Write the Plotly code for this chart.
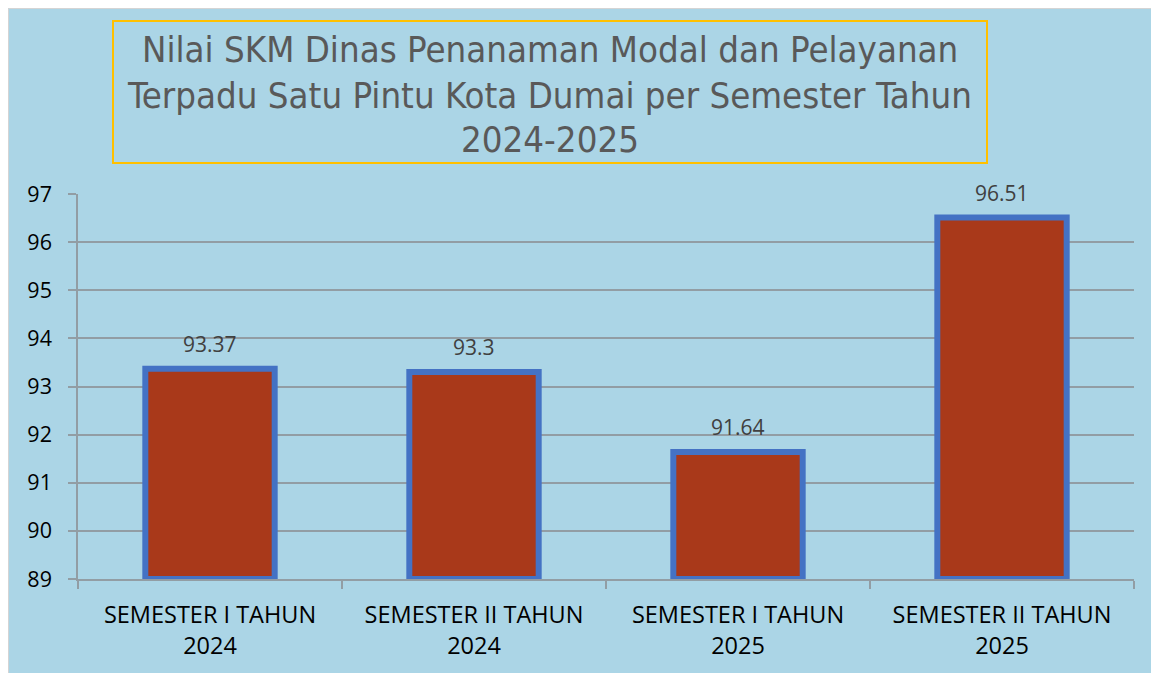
import plotly.graph_objects as go

# ---- data ----
categories = ["SEMESTER I TAHUN 2024", "SEMESTER II TAHUN 2024",
              "SEMESTER I TAHUN 2025", "SEMESTER II TAHUN 2025"]
tick_labels = ["SEMESTER I TAHUN<br>2024", "SEMESTER II TAHUN<br>2024",
               "SEMESTER I TAHUN<br>2025", "SEMESTER II TAHUN<br>2025"]
values = [93.37, 93.3, 91.64, 96.51]
value_labels = ["93.37", "93.3", "91.64", "96.51"]
y_ticks = [89, 90, 91, 92, 93, 94, 95, 96, 97]
title_lines = ["Nilai SKM Dinas Penanaman Modal dan Pelayanan",
               "Terpadu Satu Pintu Kota Dumai per Semester Tahun",
               "2024-2025"]

Y_MIN, Y_MAX = 89, 97
OFF = 8  # page body margin
W, H = 1159 - OFF, 673 - OFF
L, R, T, B = 70, 25, 186, 94
PW, PH = W - L - R, H - T - B

def px_x(px):
    # px given in window coordinates
    return (px - OFF - L) / PW

def px_y(py):
    return (H - B - (py - OFF)) / PH

BG = "#ABD5E6"
GRID = "#929DA4"

fig = go.Figure()
fig.add_trace(go.Bar(
    x=categories,
    y=[v - Y_MIN for v in values],
    base=Y_MIN,
    width=0.49,
    marker=dict(color="#A9391A", line=dict(color="#4472C4", width=6)),
    cliponaxis=False,
    hovertext=value_labels,
    hoverinfo="x+text",
))

annotations = []
for c, v, lab in zip(categories, values, value_labels):
    annotations.append(dict(
        x=c, y=v, xref="x", yref="y", text=lab, showarrow=False,
        yanchor="bottom", yshift=9,
        font=dict(family="Open Sans", size=21, color="#404040"),
    ))

title_centers = [49, 95, 139]
for line, cy in zip(title_lines, title_centers):
    annotations.append(dict(
        x=px_x(549.5), y=px_y(cy), xref="paper", yref="paper",
        text=line, showarrow=False, xanchor="center", yanchor="middle",
        font=dict(family="DejaVu Sans Condensed, DejaVu Sans", size=36.3, color="#595959"),
    ))

shapes = [
    dict(type="rect", xref="paper", yref="paper",
         x0=px_x(8), x1=px_x(1170), y0=px_y(8), y1=px_y(690),
         fillcolor=BG, line=dict(width=0), layer="below"),
    dict(type="line", xref="paper", yref="paper",
         x0=px_x(8.5), x1=px_x(1170), y0=px_y(8.5), y1=px_y(8.5),
         line=dict(color="#D4D4D4", width=1), layer="below"),
    dict(type="line", xref="paper", yref="paper",
         x0=px_x(8.5), x1=px_x(8.5), y0=px_y(8.5), y1=px_y(690),
         line=dict(color="#D4D4D4", width=1), layer="below"),
    dict(type="rect", xref="paper", yref="paper",
         x0=px_x(113), x1=px_x(987), y0=px_y(21), y1=px_y(163),
         fillcolor="rgba(0,0,0,0)", line=dict(color="#FFC000", width=2), layer="above"),
]

fig.update_layout(
    width=W, height=H,
    margin=dict(l=L, r=R, t=T, b=B, pad=0),
    paper_bgcolor=BG,
    plot_bgcolor="rgba(0,0,0,0)",
    showlegend=False,
    annotations=annotations,
    shapes=shapes,
    xaxis=dict(
        tickmode="array", tickvals=categories, ticktext=tick_labels,
        tickson="boundaries", ticks="outside", ticklen=8, tickcolor=GRID, tickwidth=1.5,
        showline=True, linecolor=GRID, linewidth=1.5,
        showgrid=False,
        tickfont=dict(family="Open Sans", size=23.5, color="black"),
        ticklabelstandoff=14,
    ),
    yaxis=dict(
        range=[Y_MIN, Y_MAX], tickvals=y_ticks,
        ticks="outside", ticklen=8, tickcolor=GRID, tickwidth=1.5,
        showline=True, linecolor=GRID, linewidth=1.5,
        showgrid=True, gridcolor=GRID, gridwidth=1.5,
        zeroline=False,
        tickfont=dict(family="Open Sans", size=21.5, color="black"),
        ticklabelstandoff=12,
    ),
)

fig.write_html("out.html")
